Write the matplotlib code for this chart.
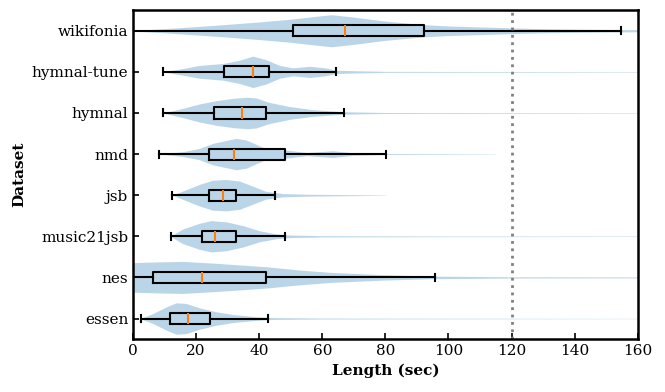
import numpy as np
import matplotlib
matplotlib.use("Agg")
import matplotlib.pyplot as plt

plt.rcParams['font.family'] = 'serif'
plt.rcParams['font.serif'] = ['DejaVu Serif']
plt.rcParams['font.size'] = 11

# --------------------------------------------------
# DATOS
# --------------------------------------------------
datasets = ['essen', 'nes', 'music21jsb', 'jsb', 'nmd', 'hymnal', 'hymnal-tune', 'wikifonia']

# estadísticas de caja: bigote inf, q1, mediana, q3, bigote sup
whislo = [2.6, 0.0, 11.9, 12.5, 8.2, 9.5, 9.5, 0.0]
q1     = [11.8, 6.3, 22.0, 24.0, 24.2, 25.7, 28.9, 50.6]
med    = [17.5, 21.8, 26.0, 28.5, 32.0, 34.5, 37.9, 67.2]
q3     = [24.3, 42.2, 32.6, 32.8, 48.2, 42.2, 43.2, 92.2]
whishi = [42.7, 95.8, 48.2, 45.1, 80.2, 67.0, 64.2, 154.6]

# perfiles de violín: posición (s) y ancho relativo
essen_x = [2.3, 6.3, 10.6, 13.7, 16.9, 21, 26.4, 31.7, 40, 44, 60, 100, 160]
essen_w = [0.0, 0.31, 0.73, 0.98, 0.94, 0.67, 0.42, 0.25, 0.1, 0.06, 0.03, 0.02, 0.01]

nes_x = [-5, 0, 8, 15.8, 26.4, 42, 52.8, 63, 79, 95, 120, 160]
nes_w = [0.88, 0.92, 0.97, 1.0, 0.88, 0.67, 0.46, 0.31, 0.17, 0.08, 0.04, 0.03]

m21_x = [11.8, 15.8, 21, 24.8, 29.6, 34.8, 40, 45.4, 49.6, 60, 100, 160]
m21_w = [0.0, 0.46, 0.81, 0.98, 0.9, 0.67, 0.35, 0.15, 0.08, 0.04, 0.02, 0.015]

jsb_x = [12.5, 16.9, 21, 25.3, 29.6, 33.8, 38, 42, 47.5, 55, 80]
jsb_w = [0.0, 0.35, 0.67, 0.94, 0.98, 0.88, 0.56, 0.25, 0.1, 0.06, 0.01]

nmd_x = [8.4, 15.8, 21, 25.3, 32.7, 35.9, 42, 48.6, 55, 63.4, 69.7, 80, 115]
nmd_w = [0.0, 0.15, 0.35, 0.67, 0.98, 0.88, 0.35, 0.25, 0.1, 0.21, 0.08, 0.03, 0.01]

hym_x = [9.5, 15.8, 21, 26.4, 32, 36, 39, 43, 49.6, 57, 66.5, 80, 160]
hym_w = [0.0, 0.29, 0.56, 0.77, 0.92, 0.98, 0.94, 0.67, 0.4, 0.21, 0.08, 0.03, 0.015]

hyt_x = [9.5, 15.8, 21, 28.5, 33.8, 38, 42, 46.5, 50.7, 56, 61, 64.4, 80, 160]
hyt_w = [0.0, 0.21, 0.4, 0.52, 0.73, 0.98, 0.77, 0.4, 0.25, 0.35, 0.25, 0.1, 0.03, 0.015]

wik_x = [0, 10, 20, 30, 40, 50, 58, 63, 70, 80, 92, 100, 110, 120, 130, 140, 150, 165]
wik_w = [0.02, 0.13, 0.26, 0.4, 0.55, 0.72, 0.9, 1.0, 0.85, 0.6, 0.38, 0.3, 0.24, 0.18, 0.13, 0.1, 0.08, 0.06]

perfiles = [(essen_x, essen_w), (nes_x, nes_w), (m21_x, m21_w), (jsb_x, jsb_w),
            (nmd_x, nmd_w), (hym_x, hym_w), (hyt_x, hyt_w), (wik_x, wik_w)]

UMBRAL = 120

# --------------------------------------------------
# FIGURA
# --------------------------------------------------
fig = plt.figure(figsize=(6.65, 3.92), dpi=100)
ax = fig.add_axes([0.2, 0.135, 0.759, 0.839])

pos = np.arange(1, len(datasets) + 1)
half = 0.39

for p, (xs, ws) in zip(pos, perfiles):
    xs = np.array(xs, dtype=float)
    ws = np.array(ws, dtype=float) * half
    ax.fill_between(xs, p - ws, p + ws, color='#1f77b4', alpha=0.3, lw=0)

stats = [dict(whislo=a, q1=b, med=c, q3=d, whishi=e)
         for a, b, c, d, e in zip(whislo, q1, med, q3, whishi)]
ax.bxp(stats, positions=pos, orientation='horizontal', widths=0.27,
       capwidths=0.17, showfliers=False,
       boxprops=dict(color='black', lw=1.5),
       whiskerprops=dict(color='black', lw=1.5),
       capprops=dict(color='black', lw=1.5),
       medianprops=dict(color='#ff7f0e', lw=1.5))

ax.axvline(UMBRAL, color='gray', linestyle=':', lw=2)

ax.set_xlim(0, 160)
ax.set_ylim(0.5, len(datasets) + 0.5)
ax.set_yticks(pos)
ax.set_yticklabels(datasets)
ax.set_xticks(np.arange(0, 161, 20))
ax.tick_params(direction='in', width=1.2, length=4)
for s in ax.spines.values():
    s.set_linewidth(1.8)

ax.set_xlabel('Length (sec)', fontweight='bold')
ax.set_ylabel('Dataset', fontweight='bold')

fig.savefig('out.png', dpi=100)
